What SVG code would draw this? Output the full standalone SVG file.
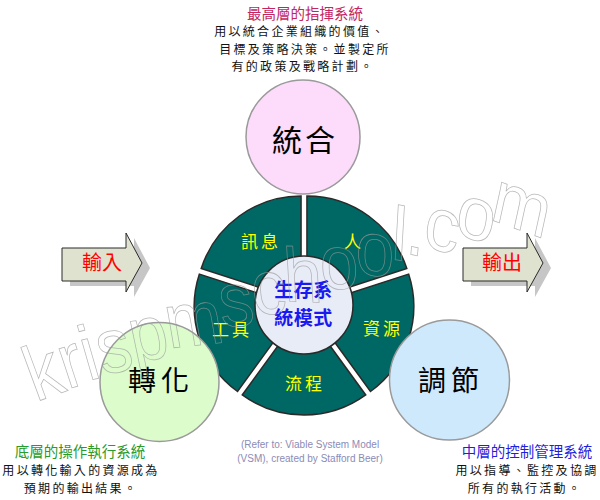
<svg xmlns="http://www.w3.org/2000/svg" xmlns:xlink="http://www.w3.org/1999/xlink" width="600" height="500" viewBox="0 0 600 500">
<defs>
<style>
.seg{fill:#006864;stroke:#2a2a2a;stroke-width:1.5}
.segt{font-family:"Noto Sans CJK TC","Noto Sans CJK SC",sans-serif;font-size:17px;fill:#ffff00;letter-spacing:3px;text-anchor:middle}
.big{font-family:"Noto Sans CJK TC","Noto Sans CJK SC",sans-serif;fill:#000;text-anchor:middle}
.title{font-family:"Noto Sans CJK TC","Noto Sans CJK SC",sans-serif;font-size:14.5px;text-anchor:middle}
.body{font-family:"Noto Sans CJK TC","Noto Sans CJK SC",sans-serif;font-size:12px;fill:#111;letter-spacing:2.3px;text-anchor:middle}
.circ{stroke:#9a9a9a;stroke-width:1.5}
.arrow{fill:#e0e2d0;stroke:#2a2a2a;stroke-width:1}
.shadow{fill:#c6c6c6}
.arrt{font-family:"Noto Sans CJK TC","Noto Sans CJK SC",sans-serif;font-size:20px;fill:#ff0000;text-anchor:middle}
.ref{font-family:"Liberation Sans",Arial,sans-serif;font-size:10px;fill:#8b8bb8;text-anchor:middle}
.ctr{font-family:"Noto Sans CJK TC","Noto Sans CJK SC",sans-serif;font-size:19px;font-weight:bold;fill:#1a1af0;text-anchor:middle;letter-spacing:0.5px}
</style>
<path id="arr" d="M0,15 L64,15 L64,0 L80,30 L64,59 L64,48 L0,48 Z"/>
</defs>

<g id="connectors"></g>

<g id="top-text">
<text class="title" x="305" y="18.5" fill="#c3265e">最高層的指揮系統</text>
<text class="body" x="300" y="36">用以統合企業組織的價值、</text>
<text class="body" x="305" y="53.5">目標及策略決策。並製定所</text>
<text class="body" x="303" y="71">有的政策及戰略計劃。</text>
</g>

<g id="wheel">
<path class="seg" d="M306.94,300.96 L306.94,195.96 A105,105 0 0 1 406.80,268.51 Z"/>
<path class="seg" d="M308.76,306.55 L408.62,274.10 A105,105 0 0 1 370.48,391.50 Z"/>
<path class="seg" d="M304,310 L365.72,394.95 A105,105 0 0 1 242.28,394.95 Z"/>
<path class="seg" d="M299.24,306.55 L237.52,391.50 A105,105 0 0 1 199.38,274.10 Z"/>
<path class="seg" d="M301.06,300.96 L201.20,268.51 A105,105 0 0 1 301.06,195.96 Z"/>
<text class="segt" x="261" y="248">訊息</text>
<text class="segt" x="354" y="248">人</text>
<text class="segt" x="383" y="335">資源</text>
<text class="segt" x="305" y="390">流程</text>
<text class="segt" x="232" y="336">工具</text>
</g>

<g id="center">
<circle cx="304" cy="305" r="49" fill="#e8ecf6" stroke="#2a2a2a" stroke-width="1.5"/>
<text class="ctr" x="303.5" y="297">生存系</text>
<text class="ctr" x="303.5" y="325">統模式</text>
</g>

<g id="node-tonghe">
<circle class="circ" cx="303" cy="137" r="57" fill="#fcdcfa"/>
<text class="big" x="305" y="151" font-size="30" letter-spacing="3">統合</text>
</g>

<g id="node-zhuanhua">
<circle class="circ" cx="159.5" cy="382" r="59.5" fill="#dcfccc"/>
<text class="big" x="161" y="391" font-size="28" letter-spacing="5">轉化</text>
</g>

<g id="node-tiaojie">
<circle class="circ" cx="449.5" cy="380" r="60" fill="#cfe9fc"/>
<text class="big" x="451" y="391" font-size="28" letter-spacing="5">調節</text>
</g>

<g id="node-input">
<use xlink:href="#arr" class="shadow" transform="translate(70,238)"/>
<use xlink:href="#arr" class="arrow" transform="translate(62,233)"/>
<text class="arrt" x="102" y="270">輸入</text>
</g>

<g id="node-output">
<use xlink:href="#arr" class="shadow" transform="translate(471,238)"/>
<use xlink:href="#arr" class="arrow" transform="translate(463,233)"/>
<text class="arrt" x="502" y="270">輸出</text>
</g>

<g id="left-text">
<text class="title" x="80" y="456.5" fill="#2a9a2a">底層的操作執行系統</text>
<text class="body" x="81" y="475">用以轉化輸入的資源成為</text>
<text class="body" x="81" y="492.5">預期的輸出結果。</text>
</g>

<g id="right-text">
<text class="title" x="527" y="456.5" fill="#1f1fe0">中層的控制管理系統</text>
<text class="body" x="527" y="475">用以指導、監控及協調</text>
<text class="body" x="525" y="492.5">所有的執行活動。</text>
</g>

<g id="reference">
<text class="ref" x="310" y="448">(Refer to: Viable System Model</text>
<text class="ref" x="310" y="462">(VSM), created by Stafford Beer)</text>
</g>

<g id="watermark" transform="translate(36,402) rotate(-22)" opacity="0.7">
<text x="0" y="0" font-family="'Liberation Sans',Arial,sans-serif" font-size="78" fill="none" stroke="#9a9a9a" stroke-width="0.8" textLength="545" lengthAdjust="spacingAndGlyphs" rotate="2 4.4 6.8 9.2 11.6 14 16.4 18.8 21.2 23.6 26 28.4 30.8 33.2 35.6 38">krispmschool.com</text>
</g>
</svg>
